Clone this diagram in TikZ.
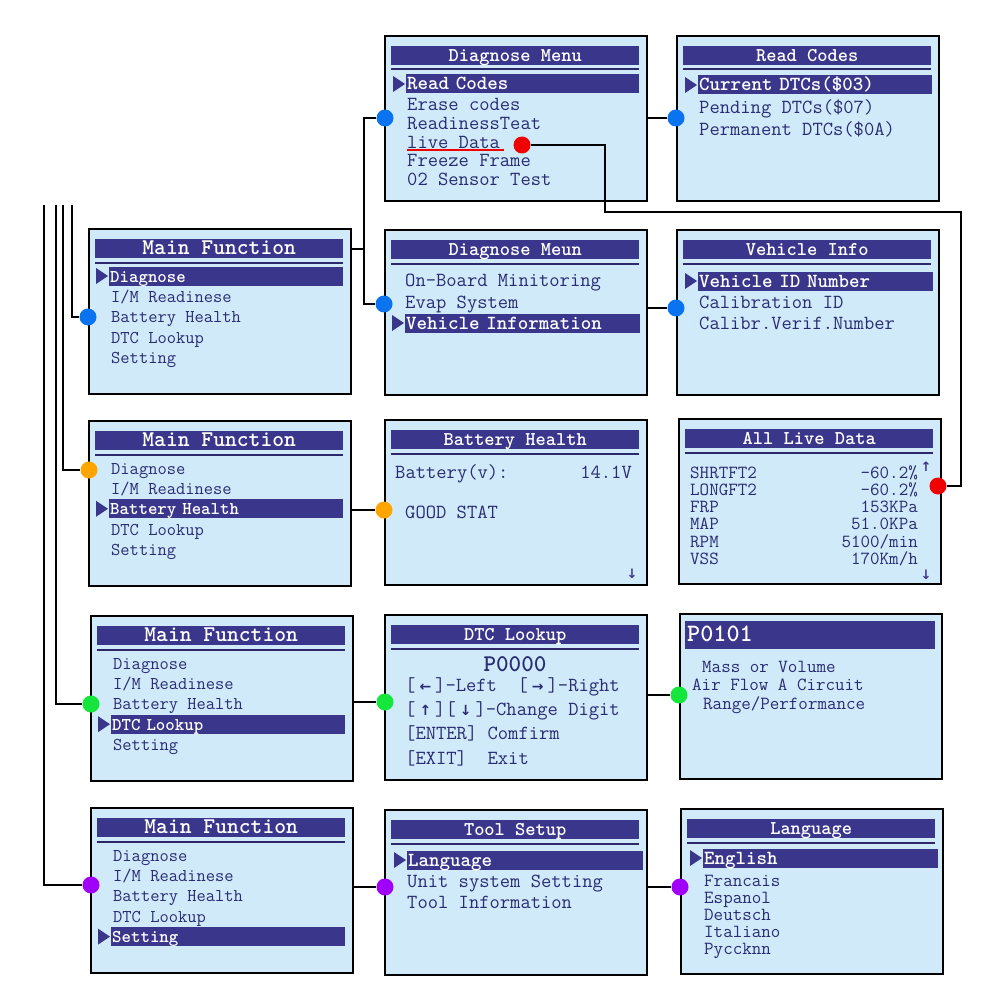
\documentclass[tikz,border=0pt]{standalone}
\usepackage{fontspec}
\newfontfamily\symfont{DejaVu Sans}
\usetikzlibrary{calc}
\definecolor{lcd}{RGB}{208,234,250}
\definecolor{bar}{RGB}{58,54,140}
\definecolor{ink}{RGB}{40,44,115}
\definecolor{dotblue}{RGB}{10,115,240}
\definecolor{dotorange}{RGB}{255,165,0}
\definecolor{dotgreen}{RGB}{20,230,60}
\definecolor{dotpurple}{RGB}{160,0,250}
\definecolor{dotred}{RGB}{240,0,0}
\newcommand\keyarr[1]{\hspace{4pt}{\fontsize{14}{14}\selectfont\symfont\bfseries #1}\hspace{4pt}}
\tikzset{
  screen/.style={draw=black,line width=1.8pt,fill=lcd,minimum width=262pt,
    minimum height=165pt,anchor=north west,inner sep=0pt},
  titlebar/.style={fill=bar,text=white,anchor=north west,minimum width=248pt,
    minimum height=19pt,inner sep=0pt,text height=12pt,text depth=0pt},
  mtitle/.style={font=\fontsize{22.5}{24}\selectfont\ttfamily\bfseries},
  stitle/.style={font=\fontsize{19.5}{22}\selectfont\ttfamily\bfseries},
  sep/.style={draw=bar!75!black,line width=2pt},
  item/.style={anchor=west,text=ink,inner sep=0pt,text height=12pt,text depth=0pt,
    font=\fontsize{20}{22}\selectfont\ttfamily},
  mtext/.style={font=\fontsize{18}{20}\selectfont\ttfamily},
  ltext/.style={font=\fontsize{18.5}{20}\selectfont\ttfamily},
  ptext/.style={font=\fontsize{18.5}{20}\selectfont\ttfamily,text height=10pt},
  hl/.style={anchor=west,fill=bar,text=white,inner xsep=1pt,inner ysep=0pt,
    minimum height=19pt,text height=12pt,text depth=0pt,align=left,
    font=\fontsize{20}{22}\selectfont\ttfamily\bfseries},
  msel/.style={font=\fontsize{18}{20}\selectfont\ttfamily\bfseries},
  selmark/.pic={\fill[bar] (0,0) -- (-12,-8) -- (-12,8) -- cycle;},
  joint/.style={circle,fill=#1,minimum size=17pt,inner sep=0pt},
  link/.style={line width=1.8pt,black},
  uline/.style={draw=dotred,line width=1.5pt},
  scrollarrow/.style={text=bar,inner sep=0pt,font=\fontsize{13}{13}\selectfont\symfont\bfseries},
}
\begin{document}
\begin{tikzpicture}[x=1pt,y=-1pt]
\useasboundingbox (0,0) rectangle (1000,1000);
% screens with title bars
\foreach \n/\x/\y/\ttl/\f in {mf1/88/228/Main Function/mtitle,mf2/88/420/Main Function/mtitle,
    mf3/90/615/Main Function/mtitle,mf4/90/807/Main Function/mtitle,
    dm/384/35/Diagnose Menu/stitle,dv/384/229/Diagnose Meun/stitle,
    bh/384/419/Battery Health/stitle,dl/384/614/DTC Lookup/stitle,
    ts/384/809/Tool Setup/stitle,rc/676/35/Read Codes/stitle,
    vi/676/229/Vehicle Info/stitle,ld/678/418/All Live Data/stitle,
    lg/680/808/Language/stitle} {
  \node[screen] (\n) at (\x,\y) {};
  \node[titlebar,\f] (\n-t) at (\x+7,\y+11) {\ttl};
  \draw[sep] (\x+7,\y+34.5) -- (\x+255,\y+34.5);
}
\node[screen] (pc) at (679,613) {};
\node[titlebar,minimum height=28pt,minimum width=250pt,text width=246pt,align=left,
  inner xsep=2pt,font=\fontsize{25}{26}\selectfont\ttfamily\bfseries] (pc-t) at (685,621) {P0101};

% main function menus
\foreach \n/\x/\y/\h in {mf1/88/228/1,mf2/88/420/3,mf3/90/615/4,mf4/90/807/5} {
  \foreach \txt [count=\i] in {Diagnose,{I/M Readinese},Battery Health,DTC Lookup,Setting} {
    \ifnum\i=\h
      \node[hl,msel,text width=232pt] (\n-\i) at (\x+21,\y+27.6+20.4*\i) {\txt};
      \pic at ([xshift=-1pt]\n-\i.west) {selmark};
    \else
      \node[item,mtext] (\n-\i) at (\x+23,\y+27.6+20.4*\i) {\txt};
    \fi
  }
}

% diagnose menu
\node[hl,text width=231pt] (dm-1) at (406,84) {Read Codes};
\pic at ([xshift=-1pt]dm-1.west) {selmark};
\foreach \txt [count=\i from 2] in {Erase codes,ReadinessTeat,live Data,Freeze Frame,02 Sensor Test}
  \node[item] (dm-\i) at (407,67.8+18.6*\i) {\txt};
\draw[uline] ([yshift=-8pt]dm-4.west) -- ([yshift=-8pt,xshift=4pt]dm-4.east);

% read codes
\node[hl,text width=232pt] (rc-1) at (698,85) {Current DTCs(\$03)};
\pic at ([xshift=-1pt]rc-1.west) {selmark};
\node[item] (rc-2) at (699,108) {Pending DTCs(\$07)};
\node[item] (rc-3) at (699,130) {Permanent DTCs(\$0A)};

% diagnose meun
\node[item] (dv-1) at (405,280) {On-Board Minitoring};
\node[item] (dv-2) at (405,302) {Evap System};
\node[hl,text width=233pt] (dv-3) at (405,323) {Vehicle Information};
\pic at ([xshift=-1pt]dv-3.west) {selmark};

% vehicle info
\node[hl,text width=233pt] (vi-1) at (698,281) {Vehicle ID Number};
\pic at ([xshift=-1pt]vi-1.west) {selmark};
\node[item] (vi-2) at (699,302) {Calibration ID};
\node[item] (vi-3) at (699,323) {Calibr.Verif.Number};

% battery health
\node[item] (bh-1) at (395,472) {Battery(v):};
\node[item,anchor=east] (bh-2) at (632,472) {14.1V};
\node[item] (bh-3) at (405,512) {GOOD STAT};
\node[scrollarrow] (bh-dn) at (632,574) {↓};

% all live data
\foreach \lab/\val [count=\i] in {SHRTFT2/-60.2\%,LONGFT2/-60.2\%,FRP/153KPa,MAP/51.0KPa,RPM/{5100/min},VSS/{170Km/h}} {
  \node[item,ltext] (ld-l\i) at (690,454.7+17.3*\i) {\lab};
  \node[item,ltext,anchor=east] (ld-v\i) at (918,454.7+17.3*\i) {\val};
}
\node[scrollarrow] (ld-up) at (926,467) {↑};
\node[scrollarrow] (ld-dn) at (926,575) {↓};

% dtc lookup
\node[item,anchor=center,font=\fontsize{24}{26}\selectfont\ttfamily\bfseries] (dl-1) at (515,665) {P0000};
\node[item] (dl-2) at (405,685) {[\keyarr{←}]-Left~ [\keyarr{→}]-Right};
\node[item] (dl-3) at (405,709) {[\keyarr{↑}][\keyarr{↓}]-Change Digit};
\node[item] (dl-4) at (405,733) {[ENTER] Comfirm};
\node[item] (dl-5) at (405,758) {[EXIT]~ Exit};

% p0101
\node[item,ptext] (pc-1) at (702,667) {Mass or Volume};
\node[item,ptext] (pc-2) at (692,685) {Air Flow A Circuit};
\node[item,ptext] (pc-3) at (703,704) {Range/Performance};

% tool setup
\node[hl,text width=234pt] (ts-1) at (407,860) {Language};
\pic at ([xshift=-1pt]ts-1.west) {selmark};
\node[item] (ts-2) at (407,881) {Unit system Setting};
\node[item] (ts-3) at (407,902) {Tool Information};

% language
\node[hl,text width=233pt] (lg-1) at (703,858) {English};
\pic at ([xshift=-1pt]lg-1.west) {selmark};
\foreach \txt [count=\i from 2] in {Francais,Espanol,Deutsch,Italiano,Pyccknn}
  \node[item,ltext] (lg-\i) at (704,846+17*\i) {\txt};

% joints
\node[joint=dotblue] (d-dm) at (385,118) {};
\node[joint=dotblue] (d-dv) at (384,304) {};
\node[joint=dotblue] (d-rc) at (676,118) {};
\node[joint=dotblue] (d-vi) at (676,308) {};
\node[joint=dotblue] (d-mf1) at (88,317) {};
\node[joint=dotorange] (d-mf2) at (89,470) {};
\node[joint=dotorange] (d-bh) at (384,510) {};
\node[joint=dotgreen] (d-mf3) at (91,704) {};
\node[joint=dotgreen] (d-dl) at (385,702) {};
\node[joint=dotgreen] (d-pc) at (679,695) {};
\node[joint=dotpurple] (d-mf4) at (91,885) {};
\node[joint=dotpurple] (d-ts) at (385,887) {};
\node[joint=dotpurple] (d-lg) at (680,887) {};
\node[joint=dotred] (d-live) at (522,145) {};
\node[joint=dotred] (d-ld) at (938,486) {};

% connectors
\coordinate (bus) at (364,200);
\coordinate (l1) at (72,205);
\coordinate (l2) at (63,205);
\coordinate (l3) at (56,205);
\coordinate (l4) at (44,205);
\coordinate (r1) at (605,212);
\coordinate (r2) at (961,486);
\draw[link] (mf1-t.east -| mf1.east) -- (mf1-t.east -| bus);
\draw[link] (d-dm) -| (bus) |- (d-dv);
\draw[link] (d-rc -| dm.east) -- (d-rc);
\draw[link] (d-vi -| dv.east) -- (d-vi);
\draw[link] (l1) |- (d-mf1);
\draw[link] (l2) |- (d-mf2);
\draw[link] (l3) |- (d-mf3);
\draw[link] (l4) |- (d-mf4);
\draw[link] (d-bh -| mf2.east) -- (d-bh);
\draw[link] (d-dl -| mf3.east) -- (d-dl);
\draw[link] (d-pc -| dl.east) -- (d-pc);
\draw[link] (d-ts -| mf4.east) -- (d-ts);
\draw[link] (d-lg -| ts.east) -- (d-lg);
\draw[link] (d-live) -| (r1) -| (r2) -- (d-ld);
\end{tikzpicture}
\end{document}
